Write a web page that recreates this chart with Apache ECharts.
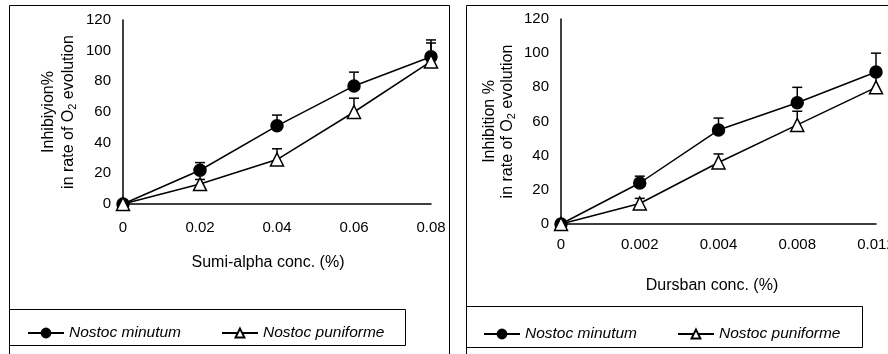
<!DOCTYPE html>
<html lang="en">
<head>
    <meta charset="UTF-8">
    <title>Nostoc inhibition</title>
    <script src="https://cdn.jsdelivr.net/npm/echarts@6/dist/echarts.min.js"></script>
</head>
<body style="margin: 0; background: #fff">
<div id="chart" style="width: 888px; height: 354px"></div>
<script>
    // Sumi-alpha panel (left)
    let sumiConc = ['0', '0.02', '0.04', '0.06', '0.08'];
    let sumiMinutum = [0, 22, 51, 77, 96];
    let sumiMinutumTop = [0, 27, 58, 86, 107];
    let sumiPuniforme = [0, 13, 29, 60, 93];
    let sumiPuniformeTop = [0, 16, 36, 69, 105];

    // Dursban panel (right)
    let dursbanConc = ['0', '0.002', '0.004', '0.008', '0.012'];
    let dursbanMinutum = [0, 24, 55, 71, 89];
    let dursbanMinutumTop = [0, 28, 62, 80, 100];
    let dursbanPuniforme = [0, 12, 36, 58, 80];
    let dursbanPuniformeTop = [0, 15, 41, 66, 87];

    let yTicks = {min: 0, max: 120, interval: 20};
    let font = "'Liberation Sans', Arial, sans-serif";

    function errData(vals, tops) {
        return vals.map(function (v, i) {
            return [i, v, tops[i]];
        });
    }

    function errRender(params, api) {
        let x = api.value(0), v = api.value(1), t = api.value(2);
        if (t <= v) return;
        let p0 = api.coord([x, v]);
        let p1 = api.coord([x, t]);
        let st = {stroke: '#000', lineWidth: 1.5};
        return {
            type: 'group',
            children: [
                {type: 'line', shape: {x1: p0[0], y1: p0[1], x2: p1[0], y2: p1[1]}, style: st},
                {type: 'line', shape: {x1: p1[0] - 5, y1: p1[1], x2: p1[0] + 5, y2: p1[1]}, style: st}
            ]
        };
    }

    function xAxis(idx, cats, name, margin, gap, shift) {
        return {
            type: 'category',
            gridIndex: idx,
            data: cats,
            boundaryGap: false,
            axisLine: {lineStyle: {color: '#000', width: 1.5}},
            axisTick: {show: false},
            axisLabel: {color: '#000', fontSize: 15, fontFamily: font, margin: margin},
            name: name,
            nameLocation: 'middle',
            nameGap: gap,
            nameTextStyle: {color: '#000', fontSize: 16, fontFamily: font, padding: [0, shift, 0, 0]}
        };
    }

    function yAxis(idx, name, gap, lh) {
        return {
            type: 'value',
            gridIndex: idx,
            min: yTicks.min,
            max: yTicks.max,
            interval: yTicks.interval,
            axisLine: {show: true, lineStyle: {color: '#000', width: 1.5}},
            axisTick: {show: false},
            splitLine: {show: false},
            axisLabel: {color: '#000', fontSize: 15, fontFamily: font, margin: 12},
            name: name,
            nameLocation: 'middle',
            nameRotate: 90,
            nameGap: gap,
            nameTextStyle: {
                color: '#000', fontSize: 16, fontFamily: font, lineHeight: lh, align: 'center',
                rich: {sub: {fontSize: 11, fontFamily: font, color: '#000', padding: [7, 0, 0, 0]}}
            }
        };
    }

    function lineSeries(idx, name, data, symbol, fill) {
        return {
            type: 'line',
            name: name,
            xAxisIndex: idx,
            yAxisIndex: idx,
            data: data,
            symbol: symbol,
            symbolSize: symbol === 'circle' ? 12 : 13,
            lineStyle: {color: '#000', width: 1.5},
            itemStyle: {color: fill, borderColor: '#000', borderWidth: 1.5},
            z: 3
        };
    }

    function errSeries(idx, vals, tops) {
        return {
            type: 'custom',
            name: 'err',
            xAxisIndex: idx,
            yAxisIndex: idx,
            data: errData(vals, tops),
            encode: {x: 0, y: 1},
            renderItem: errRender,
            z: 2
        };
    }

    let legendText = {fontStyle: 'italic', fontSize: 15.5, fontFamily: font, color: '#000'};
    let names = ['Nostoc minutum', 'Nostoc puniforme'];

    let chart = echarts.init(document.getElementById('chart'));
    chart.setOption({
        animation: false,
        backgroundColor: '#fff',
        graphic: [
            {type: 'rect', shape: {x: 9.5, y: 5.5, width: 440, height: 400}, style: {fill: null, stroke: '#000', lineWidth: 1}},
            {type: 'rect', shape: {x: 466.5, y: 5.5, width: 500, height: 400}, style: {fill: null, stroke: '#000', lineWidth: 1}},
            {type: 'rect', shape: {x: 9.5, y: 309.5, width: 396, height: 36}, style: {fill: null, stroke: '#000', lineWidth: 1}},
            {type: 'rect', shape: {x: 466.5, y: 306.5, width: 396, height: 41}, style: {fill: null, stroke: '#000', lineWidth: 1}}
        ],
        legend: [
            {data: names, left: 22, top: 320, itemWidth: 36, itemHeight: 11, itemGap: 40, textStyle: legendText},
            {data: names, left: 478, top: 321, itemWidth: 36, itemHeight: 11, itemGap: 40, textStyle: legendText}
        ],
        grid: [
            {left: 123, top: 20, width: 308, height: 184, outerBoundsMode: 'none'},
            {left: 561, top: 19, width: 315, height: 205, outerBoundsMode: 'none'}
        ],
        xAxis: [
            xAxis(0, sumiConc, 'Sumi-alpha conc. (%)', 16, 51, 18),
            xAxis(1, dursbanConc, 'Dursban conc. (%)', 13, 54, 13)
        ],
        yAxis: [
            yAxis(0, 'Inhibiyion%\nin rate of O{sub|2} evolution', 44, 20),
            yAxis(1, 'Inhibition %\nin rate of O{sub|2} evolution', 44, 18)
        ],
        series: [
            errSeries(0, sumiMinutum, sumiMinutumTop),
            errSeries(0, sumiPuniforme, sumiPuniformeTop),
            lineSeries(0, names[0], sumiMinutum, 'circle', '#000'),
            lineSeries(0, names[1], sumiPuniforme, 'triangle', '#fff'),
            errSeries(1, dursbanMinutum, dursbanMinutumTop),
            errSeries(1, dursbanPuniforme, dursbanPuniformeTop),
            lineSeries(1, names[0], dursbanMinutum, 'circle', '#000'),
            lineSeries(1, names[1], dursbanPuniforme, 'triangle', '#fff')
        ]
    });
</script>
</body>
</html>
